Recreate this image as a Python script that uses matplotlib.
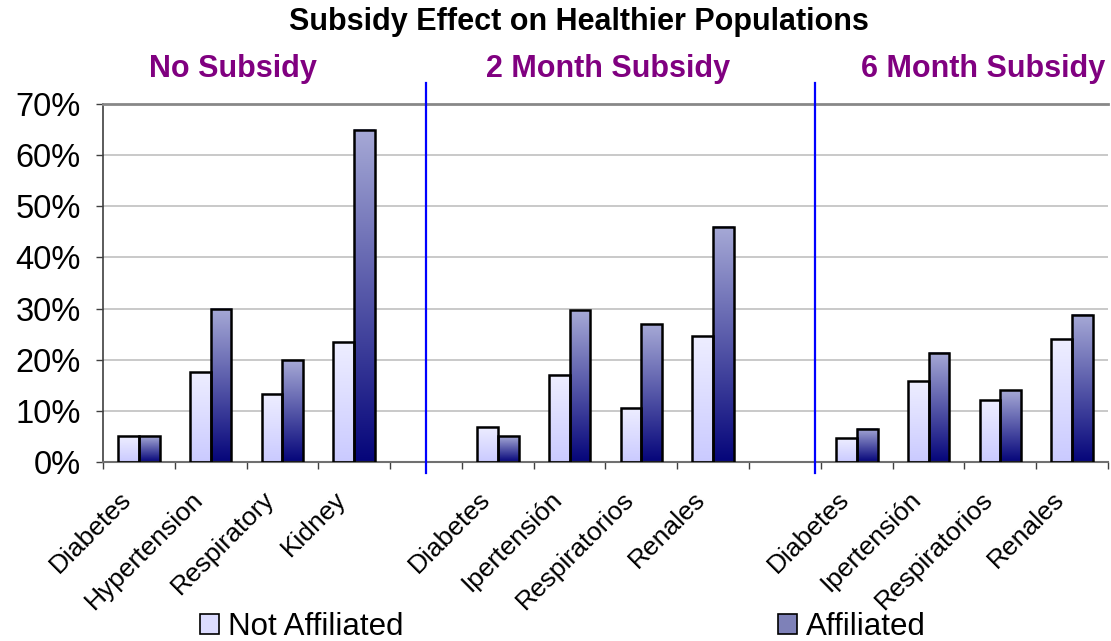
import numpy as np
import matplotlib
matplotlib.use('Agg')
import matplotlib.pyplot as plt
from matplotlib.patches import Patch
from matplotlib.ticker import PercentFormatter, FixedLocator
from matplotlib.transforms import ScaledTranslation
from matplotlib.colors import to_rgb

plt.rcParams['font.family'] = ['Liberation Sans', 'DejaVu Sans']

# Données
groups = ['No Subsidy', '2 Month Subsidy', '6 Month Subsidy']
cats_en = ['Diabetes', 'Hypertension', 'Respiratory', 'Kidney']
cats_es = ['Diabetes', 'Ipertensión', 'Respiratorios', 'Renales']

no_sub_na = [5.0, 17.5, 13.3, 23.5]
no_sub_af = [5.0, 30.0, 19.9, 65.0]
m2_na = [6.9, 17.1, 10.6, 24.6]
m2_af = [5.0, 29.7, 26.9, 46.0]
m6_na = [4.6, 15.8, 12.1, 24.1]
m6_af = [6.5, 21.4, 14.0, 28.8]

labels = cats_en + [''] + cats_es + [''] + cats_es
not_aff = no_sub_na + [np.nan] + m2_na + [np.nan] + m6_na
aff = no_sub_af + [np.nan] + m2_af + [np.nan] + m6_af
x = np.arange(len(labels))

fig = plt.figure(figsize=(11.11, 6.41), dpi=100)
ax = fig.add_axes([0.0927, 0.2793, 0.9046, 0.5585])

w = 0.29
na_top, na_bot = to_rgb('#EEEEFF'), to_rgb('#CACAFF')
af_top, af_bot = to_rgb('#A6A9D6'), to_rgb('#05057A')


def grad_bars(xpos, vals, top, bot):
    bars = ax.bar(xpos, vals, w, facecolor='none', edgecolor='black',
                  linewidth=1.8, zorder=3)
    for b in bars:
        h = b.get_height()
        if not np.isfinite(h) or h <= 0:
            continue
        t = np.linspace(0, 1, 128)[:, None]
        img = np.array(bot)[None, None, :] * (1 - t[..., None]) + \
            np.array(top)[None, None, :] * t[..., None]
        ax.imshow(img, extent=(b.get_x(), b.get_x() + b.get_width(), 0, h),
                  origin='lower', aspect='auto', zorder=2, interpolation='bilinear')
    return bars


grad_bars(x - w / 2, not_aff, na_top, na_bot)
grad_bars(x + w / 2, aff, af_top, af_bot)

ax.set_xlim(-0.5, len(labels) - 0.5)
ax.set_ylim(0, 70)
ax.yaxis.set_major_locator(FixedLocator(np.arange(0, 71, 10)))
ax.yaxis.set_major_formatter(PercentFormatter(decimals=0))
ax.yaxis.grid(True, color='#C0C0C0', linewidth=1.2)
ax.set_axisbelow(True)

ax.set_xticks(x)
ax.set_xticklabels(labels, rotation=45, ha='right', va='top',
                   rotation_mode='anchor', fontsize=19)
ax.set_xticks(np.arange(-0.5, len(labels), 1), minor=True)
ax.tick_params(axis='x', which='major', length=0, pad=18)
ax.tick_params(axis='x', which='minor', length=5, width=1, color='#404040')
ax.tick_params(axis='y', labelsize=23.5, length=5, width=1, color='#404040', pad=11)
for lab in ax.get_xticklabels():
    lab.set_transform(lab.get_transform() + ScaledTranslation(-0.2, 0, fig.dpi_scale_trans))

ax.spines['right'].set_visible(False)
ax.spines['top'].set_color('#888888')
ax.spines['top'].set_linewidth(2)
ax.spines['bottom'].set_color('#707070')
ax.spines['bottom'].set_linewidth(1.5)
ax.spines['left'].set_color('#404040')
ax.spines['left'].set_linewidth(1.2)

# Séparateurs
for xv in [4.0, 9.42]:
    ax.axvline(xv, ymin=-0.031, ymax=1.059, color='#0000FF', linewidth=1.6,
               clip_on=False, zorder=4)

# Titres
fig.text(0.521, 0.966, 'Subsidy Effect on Healthier Populations', ha='center',
         va='center', fontsize=22, fontweight='bold')
for gx, g in zip([233, 608, 983], groups):
    fig.text(gx / 1111, 0.892, g, ha='center', va='center', fontsize=22,
             fontweight='bold', color='#800080')

# Légende
fig.legend(handles=[Patch(facecolor='#DCDCFF', edgecolor='black', linewidth=1.2)],
           labels=['Not Affiliated'], loc='center left',
           bbox_to_anchor=(200 / 1111, 1 - 627 / 641), frameon=False, fontsize=22.5,
           handlelength=0.6, handleheight=0.6, handletextpad=0.3, borderpad=0,
           borderaxespad=0)
fig.legend(handles=[Patch(facecolor='#7E81B8', edgecolor='black', linewidth=1.2)],
           labels=['Affiliated'], loc='center left',
           bbox_to_anchor=(778 / 1111, 1 - 627 / 641), frameon=False, fontsize=22.5,
           handlelength=0.6, handleheight=0.6, handletextpad=0.3, borderpad=0,
           borderaxespad=0)

plt.savefig('out.png', dpi=100)
